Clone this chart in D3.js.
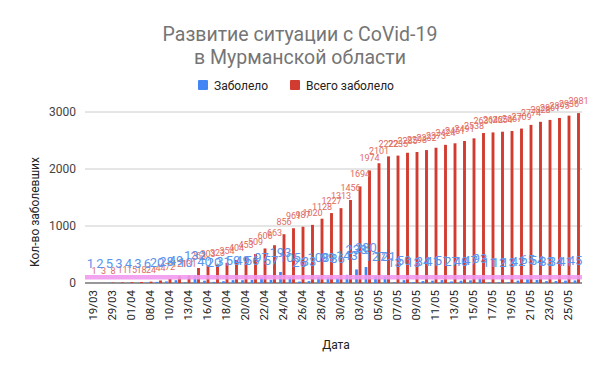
<!DOCTYPE html>
<html>
<head>
<meta charset="utf-8">
<script src="https://cdn.jsdelivr.net/npm/d3@7"></script>
<style>
  body { margin: 0; background: #fff; }
  svg { font-family: Roboto, Arial, sans-serif; }
</style>
</head>
<body>
<svg id="chart" width="600" height="371"></svg>
<script>
//Dates on the x axis (one column per report)
var dates = ["19/03","26/03","29/03","31/03","01/04","06/04","08/04","09/04","10/04","12/04",
  "13/04","15/04","16/04","17/04","18/04","19/04","20/04","21/04","22/04","23/04",
  "24/04","25/04","26/04","27/04","28/04","29/04","30/04","02/05","03/05","04/05",
  "05/05","06/05","07/05","08/05","09/05","10/05","11/05","12/05","13/05","14/05",
  "15/05","16/05","17/05","18/05","19/05","20/05","21/05","22/05","23/05","24/05",
  "25/05","26/05"];

//Cumulative cases ("Всего заболело")
var total = [1,3,8,11,15,18,24,44,72,121,
  131,263,303,323,354,404,453,509,606,663,
  856,961,987,1020,1128,1227,1313,1456,1694,1974,
  2101,2222,2235,2285,2298,2332,2373,2424,2451,2491,
  2538,2631,2642,2654,2667,2709,2774,2828,2861,2895,
  2936,2981];

//New cases per report ("Заболело")
var daily = [1,2,5,3,4,3,6,20,28,49,
  10,132,40,20,31,50,49,56,97,57,
  193,105,26,33,108,99,86,143,238,280,
  127,121,13,50,13,34,41,51,27,40,
  47,93,11,12,13,42,65,54,33,34,
  41,45];

//Level of the pink guide line
var guideLevel = [100];

var yTicks = [0, 1000, 2000, 3000];

var blue = "#4285f4", red = "#d23c30";

var svg = d3.select("#chart");
//Plot area edges
var pLeft = 88, pRight = 582, pTop = 112, pBottom = 283;

var x = d3.scaleBand().domain(dates).range([pLeft, pRight]);
var y = d3.scaleLinear().domain([0, 3000]).range([pBottom, pTop]);
var bw = x.bandwidth();
var cx = function(d){ return x(d) + bw / 2; };

//Title
var title = svg.append("text")
  .attr("x", 300).attr("y", 41)
  .attr("text-anchor", "middle")
  .style("font-size", "19.5px")
  .style("fill", "#757575");
title.append("tspan").attr("x", 300).text("Развитие ситуации с CoVid-19");
title.append("tspan").attr("x", 300).attr("dy", 23).text("в Мурманской области");

//Legend
var legend = [{name: "Заболело", color: blue, x: 198}, {name: "Всего заболело", color: red, x: 290}];
legend.forEach(function(l){
  svg.append("rect").attr("x", l.x).attr("y", 80).attr("width", 10).attr("height", 10)
    .attr("rx", 1).style("fill", l.color);
  svg.append("text").attr("x", l.x + 16).attr("y", 89.5)
    .style("font-size", "12px").style("fill", "#222").text(l.name);
});

//Gridlines and y axis labels
svg.append("g").selectAll("line").data(yTicks).join("line")
  .attr("x1", pLeft - 3).attr("x2", pRight)
  .attr("y1", function(d){ return y(d); }).attr("y2", function(d){ return y(d); })
  .style("stroke", function(d){ return d === 0 ? "#333" : "#ccc"; })
  .style("stroke-width", function(d){ return d === 0 ? 1.2 : 1; });
svg.append("g").selectAll("text").data(yTicks).join("text")
  .attr("x", 76).attr("y", function(d){ return y(d) + 4; })
  .attr("text-anchor", "end")
  .style("font-size", "12px").style("fill", "#444")
  .text(function(d){ return d; });

//Blue bars (daily)
svg.append("g").selectAll("rect").data(dates).join("rect")
  .attr("x", function(d){ return cx(d) - 3.6; })
  .attr("width", 2.7)
  .attr("y", function(d, i){ return y(daily[i]); })
  .attr("height", function(d, i){ return pBottom - y(daily[i]); })
  .style("fill", blue);

//Red bars (cumulative)
svg.append("g").selectAll("rect").data(dates).join("rect")
  .attr("x", function(d){ return cx(d) - 0.2; })
  .attr("width", 2.9)
  .attr("y", function(d, i){ return y(total[i]); })
  .attr("height", function(d, i){ return pBottom - y(total[i]); })
  .style("fill", red);

//Pink guide line
svg.append("line")
  .attr("x1", pLeft - 3).attr("x2", pRight)
  .attr("y1", y(guideLevel[0])).attr("y2", y(guideLevel[0]))
  .style("stroke", "#f19bf0").style("stroke-width", 4.5).style("opacity", 0.9);

//Red value labels
svg.append("g").selectAll("text").data(dates).join("text")
  .attr("x", function(d){ return cx(d) + 1.3; })
  .attr("y", function(d, i){ return y(total[i]) - 9; })
  .attr("text-anchor", "middle")
  .style("font-size", "9px").style("fill", "#e06b5f")
  .text(function(d, i){ return total[i]; });

//Blue value labels
svg.append("g").selectAll("text").data(dates).join("text")
  .attr("x", function(d){ return cx(d) - 2.3; })
  .attr("y", function(d, i){ return y(daily[i]) - 15; })
  .attr("text-anchor", "middle")
  .style("font-size", "13px").style("fill", "#5b95ee")
  .text(function(d, i){ return daily[i]; });

//X axis labels, every second date
svg.append("g").selectAll("text").data(dates.filter(function(d, i){ return i % 2 === 0; })).join("text")
  .attr("transform", function(d){ return "translate(" + (cx(d) + 4) + ",290) rotate(-90)"; })
  .attr("text-anchor", "end")
  .style("font-size", "11.5px").style("fill", "#222")
  .text(function(d){ return d; });

//Axis titles
svg.append("text").attr("x", 336).attr("y", 349)
  .attr("text-anchor", "middle").style("font-size", "12px").style("fill", "#222")
  .text("Дата");
svg.append("text").attr("transform", "translate(39,212) rotate(-90)")
  .attr("text-anchor", "middle").style("font-size", "12px").style("fill", "#222")
  .text("Кол-во заболевших");
</script>
</body>
</html>
